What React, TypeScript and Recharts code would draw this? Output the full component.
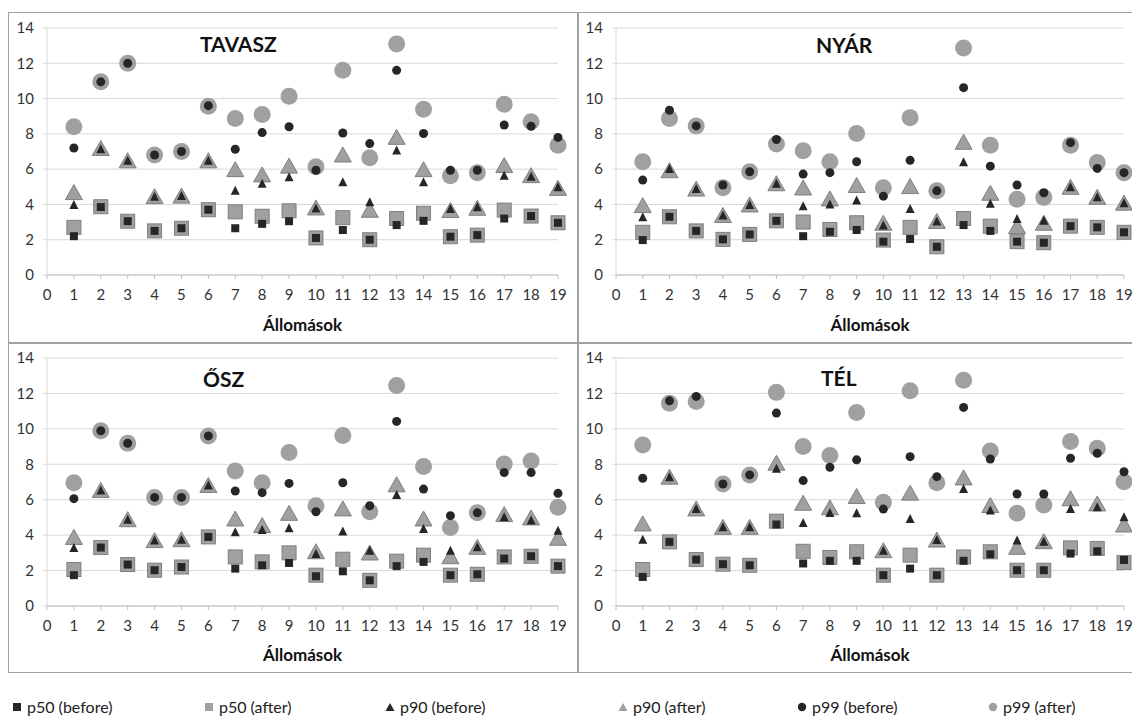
import React from "react";
import {
  ScatterChart,
  Scatter,
  XAxis,
  YAxis,
  CartesianGrid,
} from "recharts";

const stations = [1, 2, 3, 4, 5, 6, 7, 8, 9, 10, 11, 12, 13, 14, 15, 16, 17, 18, 19];
const xTicks = [0, 1, 2, 3, 4, 5, 6, 7, 8, 9, 10, 11, 12, 13, 14, 15, 16, 17, 18, 19];
const yTicks = [0, 2, 4, 6, 8, 10, 12, 14];

// TAVASZ
const tavaszP50Before = [2.2, 3.85, 3.05, 2.5, 2.65, 3.7, 2.65, 2.9, 3.05, 2.1, 2.55, 2.0, 2.83, 3.07, 2.17, 2.26, 3.2, 3.34, 2.96];
const tavaszP50After = [2.7, 3.87, 3.05, 2.5, 2.65, 3.7, 3.58, 3.33, 3.64, 2.1, 3.25, 2.0, 3.2, 3.5, 2.17, 2.26, 3.68, 3.34, 2.96];
const tavaszP90Before = [4.0, 7.15, 6.5, 4.47, 4.5, 6.5, 4.8, 5.2, 5.57, 3.8, 5.28, 4.15, 7.08, 5.28, 3.77, 3.87, 5.66, 5.6, 5.0];
const tavaszP90After = [4.7, 7.2, 6.5, 4.47, 4.5, 6.5, 6.0, 5.7, 6.2, 3.83, 6.83, 3.7, 7.83, 6.0, 3.68, 3.81, 6.23, 5.66, 4.94];
const tavaszP99Before = [7.2, 10.95, 12.0, 6.8, 7.0, 9.6, 7.13, 8.07, 8.4, 5.94, 8.05, 7.45, 11.6, 8.02, 5.94, 5.94, 8.5, 8.43, 7.8];
const tavaszP99After = [8.4, 10.95, 12.0, 6.8, 7.0, 9.57, 8.87, 9.1, 10.13, 6.13, 11.6, 6.64, 13.1, 9.4, 5.62, 5.8, 9.68, 8.68, 7.36];

// NYÁR
const nyarP50Before = [1.98, 3.3, 2.5, 2.02, 2.3, 3.07, 2.2, 2.45, 2.55, 1.89, 2.04, 1.6, 2.83, 2.5, 1.89, 1.83, 2.77, 2.7, 2.42];
const nyarP50After = [2.42, 3.3, 2.5, 2.02, 2.3, 3.07, 3.0, 2.58, 2.96, 1.98, 2.7, 1.6, 3.2, 2.77, 1.89, 1.83, 2.77, 2.7, 2.42];
const nyarP90Before = [3.3, 6.04, 4.9, 3.4, 4.0, 5.2, 3.92, 4.02, 4.25, 2.83, 3.77, 3.06, 6.42, 4.06, 3.2, 3.1, 5.0, 4.43, 4.1];
const nyarP90After = [3.96, 5.94, 4.9, 3.4, 4.0, 5.2, 4.96, 4.34, 5.1, 2.96, 5.04, 3.06, 7.55, 4.66, 2.77, 2.96, 5.0, 4.43, 4.1];
const nyarP99Before = [5.38, 9.34, 8.45, 5.1, 5.85, 7.68, 5.72, 5.8, 6.42, 4.47, 6.5, 4.77, 10.62, 6.17, 5.1, 4.66, 7.5, 6.04, 5.8];
const nyarP99After = [6.42, 8.87, 8.45, 4.94, 5.85, 7.42, 7.04, 6.42, 8.02, 4.94, 8.92, 4.77, 12.87, 7.36, 4.3, 4.4, 7.36, 6.38, 5.8];

// ŐSZ
const oszP50Before = [1.74, 3.3, 2.34, 2.02, 2.2, 3.9, 2.11, 2.3, 2.43, 1.68, 1.96, 1.45, 2.25, 2.49, 1.74, 1.79, 2.68, 2.81, 2.25];
const oszP50After = [2.06, 3.3, 2.34, 2.02, 2.2, 3.9, 2.77, 2.49, 3.0, 1.74, 2.64, 1.45, 2.53, 2.87, 1.74, 1.79, 2.77, 2.81, 2.25];
const oszP90Before = [3.3, 6.55, 4.9, 3.72, 3.77, 6.83, 4.19, 4.32, 4.42, 2.96, 4.23, 3.15, 6.3, 4.38, 3.15, 3.34, 5.04, 4.85, 4.28];
const oszP90After = [3.9, 6.55, 4.9, 3.72, 3.77, 6.83, 4.94, 4.57, 5.26, 3.09, 5.51, 3.02, 6.87, 4.94, 2.81, 3.34, 5.19, 5.0, 3.85];
const oszP99Before = [6.06, 9.89, 9.19, 6.13, 6.13, 9.6, 6.49, 6.4, 6.92, 5.32, 6.96, 5.66, 10.42, 6.6, 5.1, 5.26, 7.53, 7.53, 6.36];
const oszP99After = [6.96, 9.89, 9.19, 6.13, 6.13, 9.6, 7.62, 6.96, 8.66, 5.66, 9.62, 5.32, 12.45, 7.87, 4.43, 5.26, 8.02, 8.19, 5.57];

// TÉL
const telP50Before = [1.64, 3.62, 2.62, 2.36, 2.3, 4.6, 2.4, 2.55, 2.55, 1.74, 2.11, 1.74, 2.55, 2.92, 2.02, 2.02, 2.96, 3.09, 2.6];
const telP50After = [2.06, 3.62, 2.62, 2.36, 2.3, 4.79, 3.09, 2.74, 3.06, 1.74, 2.87, 1.74, 2.77, 3.06, 2.02, 2.02, 3.28, 3.25, 2.45];
const telP90Before = [3.77, 7.3, 5.51, 4.47, 4.47, 7.77, 4.72, 5.28, 5.26, 3.15, 4.94, 3.75, 6.64, 5.42, 3.72, 3.66, 5.51, 5.6, 5.04];
const telP90After = [4.66, 7.3, 5.51, 4.47, 4.47, 8.09, 5.83, 5.57, 6.21, 3.15, 6.4, 3.75, 7.26, 5.7, 3.34, 3.66, 6.08, 5.79, 4.6];
const telP99Before = [7.21, 11.58, 11.83, 6.89, 7.4, 10.89, 7.08, 7.83, 8.25, 5.47, 8.43, 7.3, 11.21, 8.3, 6.32, 6.32, 8.34, 8.62, 7.58];
const telP99After = [9.09, 11.45, 11.55, 6.89, 7.4, 12.06, 9.0, 8.5, 10.92, 5.85, 12.15, 6.96, 12.74, 8.75, 5.23, 5.7, 9.28, 8.91, 7.02];

const FONT = "Lato, 'Open Sans', sans-serif";
const DARK = "#262626";
const GRAY = "#a0a0a0";
const GRAY_EDGE = "#7f7f7f";

const square = (size: number, fill: string, stroke?: string) => (props: any) => {
  const { cx, cy } = props;
  return (
    <rect
      x={cx - size / 2}
      y={cy - size / 2}
      width={size}
      height={size}
      fill={fill}
      stroke={stroke || "none"}
      strokeWidth={1}
    />
  );
};

const triangle = (w: number, h: number, fill: string, stroke?: string) => (props: any) => {
  const { cx, cy } = props;
  const pts = `${cx},${cy - h / 2} ${cx - w / 2},${cy + h / 2} ${cx + w / 2},${cy + h / 2}`;
  return <polygon points={pts} fill={fill} stroke={stroke || "none"} strokeWidth={1} />;
};

const circle = (r: number, fill: string) => (props: any) => {
  const { cx, cy } = props;
  return <circle cx={cx} cy={cy} r={r} fill={fill} />;
};

// series drawing order: "after" markers underneath, "before" markers on top
const seriesStyles = [
  { key: "p99a", label: "p99 (after)", shape: circle(8.5, GRAY) },
  { key: "p90a", label: "p90 (after)", shape: triangle(17, 15, GRAY, GRAY_EDGE) },
  { key: "p50a", label: "p50 (after)", shape: square(14, GRAY, GRAY_EDGE) },
  { key: "p99b", label: "p99 (before)", shape: circle(4.5, DARK) },
  { key: "p90b", label: "p90 (before)", shape: triangle(9, 9, DARK) },
  { key: "p50b", label: "p50 (before)", shape: square(8, DARK) },
];

const toPoints = (values: number[]) => stations.map((s, i) => ({ x: s, y: values[i] }));

type Box = {
  left: number;
  top: number;
  width: number;
  height: number;
  plotLeft: number;
  plotTop: number;
  plotRight: number;
  plotBottom: number;
};

type PanelProps = {
  box: Box;
  series: Record<string, number[]>;
};

const tickStyle = { fontSize: 15, fill: "#333", fontFamily: FONT };

const Panel = ({ box, series }: PanelProps) => {
  const yAxisWidth = box.plotLeft - box.left;
  const xAxisHeight = box.top + box.height - box.plotBottom;
  return (
    <div style={{ position: "absolute", left: box.left, top: box.top }}>
      <ScatterChart
        width={box.width}
        height={box.height}
        margin={{
          top: box.plotTop - box.top,
          right: box.left + box.width - box.plotRight,
          left: 0,
          bottom: 0,
        }}
        style={{ overflow: "visible" }}
      >
        <CartesianGrid vertical={false} stroke="#d9d9d9" />
        <XAxis
          type="number"
          dataKey="x"
          domain={[0, 19]}
          ticks={xTicks}
          interval={0}
          height={xAxisHeight}
          stroke="#bfbfbf"
          tickSize={4}
          tickMargin={10}
          tick={tickStyle}
          label={{
            value: "Állomások",
            position: "insideBottom",
            offset: 12,
            style: { fontSize: 17, fontWeight: 700, fill: "#111", fontFamily: FONT },
          }}
        />
        <YAxis
          type="number"
          dataKey="y"
          domain={[0, 14]}
          ticks={yTicks}
          interval={0}
          width={yAxisWidth}
          stroke="#d9d9d9"
          tickSize={4}
          tickMargin={9}
          tick={tickStyle}
        />
        {seriesStyles.map((s) => (
          <Scatter
            key={s.key}
            name={s.label}
            data={toPoints(series[s.key])}
            shape={s.shape}
            isAnimationActive={false}
          />
        ))}
      </ScatterChart>
    </div>
  );
};

const panels = [
  {
    title: "TAVASZ",
    titleLeft: 200,
    titleTop: 32,
    box: { left: 8, top: 12, width: 569, height: 331, plotLeft: 47, plotTop: 28, plotRight: 558, plotBottom: 275 },
    series: {
      p50b: tavaszP50Before, p50a: tavaszP50After,
      p90b: tavaszP90Before, p90a: tavaszP90After,
      p99b: tavaszP99Before, p99a: tavaszP99After,
    },
  },
  {
    title: "NYÁR",
    titleLeft: 816,
    titleTop: 33,
    box: { left: 577, top: 12, width: 555, height: 331, plotLeft: 616, plotTop: 28, plotRight: 1124, plotBottom: 275 },
    series: {
      p50b: nyarP50Before, p50a: nyarP50After,
      p90b: nyarP90Before, p90a: nyarP90After,
      p99b: nyarP99Before, p99a: nyarP99After,
    },
  },
  {
    title: "ŐSZ",
    titleLeft: 203,
    titleTop: 367,
    box: { left: 8, top: 343, width: 569, height: 330, plotLeft: 47, plotTop: 358, plotRight: 558, plotBottom: 606 },
    series: {
      p50b: oszP50Before, p50a: oszP50After,
      p90b: oszP90Before, p90a: oszP90After,
      p99b: oszP99Before, p99a: oszP99After,
    },
  },
  {
    title: "TÉL",
    titleLeft: 821,
    titleTop: 366,
    box: { left: 577, top: 343, width: 555, height: 330, plotLeft: 616, plotTop: 358, plotRight: 1124, plotBottom: 606 },
    series: {
      p50b: telP50Before, p50a: telP50After,
      p90b: telP90Before, p90a: telP90After,
      p99b: telP99Before, p99a: telP99After,
    },
  },
];

const legendOrder = ["p50b", "p50a", "p90b", "p90a", "p99b", "p99a"];
const legendLeft = [12, 204, 385, 618, 797, 988];

const LegendMarker = ({ k }: { k: string }) => {
  const fill = k.endsWith("b") ? DARK : GRAY;
  let el: React.ReactNode;
  if (k.startsWith("p50")) el = <rect x={1} y={1} width={8} height={8} fill={fill} />;
  else if (k.startsWith("p90")) el = <polygon points="5,1 0.5,9 9.5,9" fill={fill} />;
  else el = <circle cx={5} cy={5} r={4.2} fill={fill} />;
  return (
    <svg width={10} height={10} style={{ marginRight: 5 }}>
      {el}
    </svg>
  );
};

const App = () => {
  return (
    <div
      style={{
        position: "absolute",
        left: 0,
        top: 0,
        width: 1132,
        height: 717,
        overflow: "hidden",
        background: "#fff",
        fontFamily: FONT,
      }}
    >
      {panels.map((p) => (
        <Panel key={p.title} box={p.box} series={p.series} />
      ))}
      {panels.map((p) => (
        <div
          key={"t" + p.title}
          style={{
            position: "absolute",
            left: p.titleLeft,
            top: p.titleTop,
            fontSize: 21,
            lineHeight: "24px",
            fontWeight: 700,
            color: "#111",
          }}
        >
          {p.title}
        </div>
      ))}
      {/* panel frames */}
      <div style={{ position: "absolute", left: 8, top: 12, width: 1140, height: 661, border: "1.5px solid #a0a0a0", boxSizing: "border-box" }} />
      <div style={{ position: "absolute", left: 577, top: 12, width: 1.5, height: 661, background: "#a0a0a0" }} />
      <div style={{ position: "absolute", left: 8, top: 342, width: 1132, height: 1.5, background: "#a0a0a0" }} />
      {/* legend */}
      {legendOrder.map((k, i) => {
        const s = seriesStyles.find((st) => st.key === k)!;
        return (
          <div
            key={k}
            style={{
              position: "absolute",
              left: legendLeft[i],
              top: 697,
              height: 20,
              lineHeight: "20px",
              display: "flex",
              alignItems: "center",
              fontSize: 16,
              color: "#222",
              whiteSpace: "nowrap",
            }}
          >
            <LegendMarker k={k} />
            {s.label}
          </div>
        );
      })}
    </div>
  );
};

export default App;
